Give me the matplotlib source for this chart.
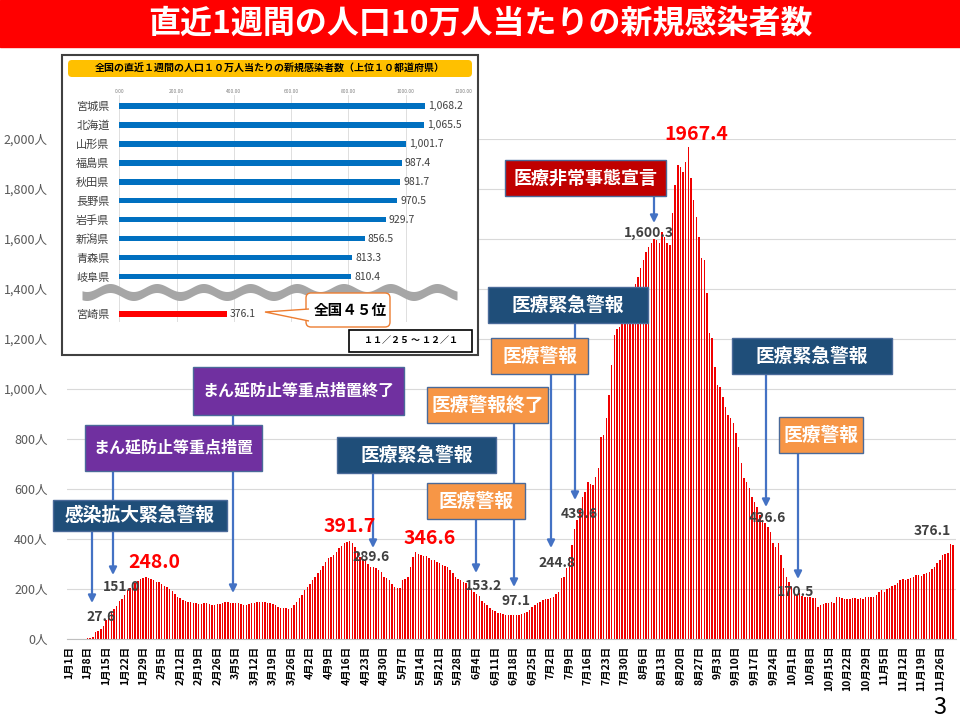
import numpy as np
import pandas as pd
import matplotlib
matplotlib.use('Agg')
import matplotlib.pyplot as plt
from matplotlib.patches import Rectangle, FancyBboxPatch, Polygon
from matplotlib.ticker import FuncFormatter

plt.rcParams['font.family'] = ['Noto Sans CJK JP', 'DejaVu Sans']

# daily values: new cases per 100k over the last 7 days (2022)
jan = [0, 0, 0, 0, 0, 0, 0, 3, 6, 10, 27.6, 32, 40, 53, 76, 90, 109, 120, 132, 151.0,
       160, 176, 196, 205, 209, 225, 232, 239, 245, 248.0, 245]
feb = [240, 236, 230, 227, 219, 214, 209, 200, 193, 180, 170, 165, 156, 152, 149, 147, 145, 143, 140, 141,
       143, 143, 140, 136, 137, 139, 139, 143]
mar = [147, 148, 146, 145, 144, 143, 140, 138, 136, 140, 143, 145, 148, 149, 150, 149, 146, 143, 141, 135,
       127, 125, 124, 123, 122, 123, 135, 149, 163, 176, 195]
apr = [209, 222, 236, 250, 263, 277, 292, 308, 323, 330, 336, 349, 363, 372, 383, 387, 391.7, 385, 369, 345,
       329, 320, 316, 300, 289.6, 287, 285, 276, 270, 249]
may = [243, 236, 220, 209, 205, 203, 236, 240, 249, 290, 329, 346.6, 340, 336, 334, 332, 325, 318, 316, 310,
       303, 298, 293, 289, 276, 263, 250, 240, 236, 228, 223]
jun = [210, 200, 190, 180, 172, 153.2, 145, 136, 125, 116, 112, 105, 103, 99, 97, 96, 96, 97.1, 96, 96,
       100, 105, 109, 118, 129, 138, 145, 149, 155, 159]
jul = [162, 165, 169, 180, 189, 244.8, 249, 283, 329, 376, 439.6, 476, 516, 569, 589, 629, 620, 616, 650, 683,
       809, 816, 883, 976, 1096, 1216, 1239, 1249, 1263, 1276, 1303]
aug = [1389, 1409, 1420, 1449, 1483, 1516, 1549, 1569, 1583, 1600.3, 1596, 1583, 1629, 1609, 1583, 1576, 1703,
       1816, 1896, 1889, 1869, 1909, 1967.4, 1843, 1756, 1689, 1609, 1523, 1516, 1383, 1223]
sep = [1203, 1089, 1016, 1009, 969, 929, 896, 883, 863, 823, 769, 703, 643, 629, 603, 569, 549, 529, 496, 476,
       463, 449, 426.6, 383, 369, 383, 336, 283, 249, 229]
oct_ = [209, 183, 176, 183, 170.5, 169, 167, 169, 163, 163, 129, 136, 139, 143, 145, 149, 145, 169, 167, 163,
        160, 160, 160, 163, 163, 161, 163, 161, 167, 169, 169]
nov = [169, 176, 189, 196, 189, 199, 203, 212, 216, 223, 236, 240, 236, 239, 243, 249, 256, 256, 252, 259,
       263, 269, 279, 289, 305, 316, 336, 340, 345, 380]
dec = [376.1]

# inset: top 10 prefectures
prefs = ['宮城県', '北海道', '山形県', '福島県', '秋田県', '長野県', '岩手県', '新潟県', '青森県', '岐阜県']
pref_vals = [1068.2, 1065.5, 1001.7, 987.4, 981.7, 970.5, 929.7, 856.5, 813.3, 810.4]
own_pref, own_val = '宮崎県', 376.1

values = np.array(jan + feb + mar + apr + may + jun + jul + aug + sep + oct_ + nov + dec)
dates = pd.date_range('2022-01-01', periods=len(values))
days = np.arange(len(values))

W, H = 960, 720
fig = plt.figure(figsize=(W / 100, H / 100), dpi=100)


def rect(x0, y0, x1, y1):
    return [x0 / W, 1 - y1 / H, (x1 - x0) / W, (y1 - y0) / H]


# main bar chart
ax = fig.add_axes(rect(67, 139, 956, 639))
ax.bar(days, values, width=0.55, color='#F00000', zorder=2)
ax.set_xlim(-0.76, 335.1)
ax.set_ylim(0, 2000)
ax.set_yticks(range(0, 2001, 200))
ax.yaxis.set_major_formatter(FuncFormatter(lambda v, p: f'{int(v):,}人'))
ax.tick_params(axis='y', length=0, pad=14, labelsize=9, labelcolor='#595959')
ax.set_xticks(days[::7])
ax.set_xticklabels([f'{d.month}月{d.day}日' for d in dates[::7]], rotation=90,
                   fontsize=7.5, fontweight='bold', color='black')
ax.tick_params(axis='x', length=0, pad=5)
ax.grid(axis='y', color='#D9D9D9', lw=0.8, zorder=0)
for s in ['top', 'right', 'left']:
    ax.spines[s].set_visible(False)
ax.spines['bottom'].set_color('#BFBFBF')

# overlay in pixel coordinates
ov = fig.add_axes([0, 0, 1, 1], zorder=3)
ov.set_xlim(0, W); ov.set_ylim(H, 0); ov.axis('off')

ov.add_patch(Rectangle((0, 0), W, 47, color='#FF0000', zorder=1))
ov.text(480, 24, '直近1週間の人口10万人当たりの新規感染者数', ha='center', va='center',
        color='white', fontsize=23, fontweight='bold')
ov.text(940, 707, '3', ha='center', va='center', fontsize=17, color='black')

navy, purple, orange, darkred = '#1F4E79', '#7030A0', '#F79646', '#C00000'
boxes = [
    ('感染拡大緊急警報', 53, 500, 227, 531, navy, 13.5),
    ('まん延防止等重点措置', 85, 425, 262, 471, purple, 11.5),
    ('まん延防止等重点措置終了', 193, 367, 404, 415, purple, 11.5),
    ('医療緊急警報', 337, 437, 496, 473, navy, 13.5),
    ('医療警報', 427, 483, 525, 519, orange, 13.5),
    ('医療警報終了', 427, 387, 548, 423, orange, 13.5),
    ('医療警報', 491, 338, 588, 374, orange, 13.5),
    ('医療緊急警報', 488, 287, 648, 323, navy, 13.5),
    ('医療非常事態宣言', 505, 160, 666, 196, darkred, 13),
    ('医療緊急警報', 732, 338, 892, 374, navy, 13.5),
    ('医療警報', 779, 417, 863, 453, orange, 13.5),
]
for text, x0, y0, x1, y1, fc, fs in boxes:
    ov.add_patch(Rectangle((x0, y0), x1 - x0, y1 - y0, fc=fc, ec='#4A6A99', lw=1, zorder=4))
    ov.text((x0 + x1) / 2, (y0 + y1) / 2, text, ha='center', va='center', color='white',
            fontsize=fs, fontweight='bold', zorder=5)

arrows = [(92, 531, 603), (113, 471, 575), (233, 415, 593), (373, 473, 548), (476, 519, 573),
          (514, 423, 587), (551, 374, 548), (575, 323, 500), (654, 196, 223), (766, 374, 507),
          (798, 453, 579)]
for x, y0, y1 in arrows:
    ov.annotate('', xy=(x, y1), xytext=(x, y0), zorder=2,
                arrowprops=dict(arrowstyle='-|>', color='#4472C4', lw=1.6, mutation_scale=11,
                                shrinkA=0, shrinkB=0))

gray_labels = [('27.6', 101, 617), ('151.0', 122, 587), ('289.6', 371, 557), ('153.2', 483, 586),
               ('97.1', 516, 601), ('244.8', 557, 563), ('439.6', 579, 514), ('1,600.3', 649, 233),
               ('426.6', 767, 518), ('170.5', 796, 592), ('376.1', 932, 531)]
for t, x, y in gray_labels:
    ov.text(x, y, t, ha='center', va='center', fontsize=10, fontweight='bold', color='#404040', zorder=6)
red_labels = [('248.0', 154, 562), ('391.7', 350, 527), ('346.6', 430, 538), ('1967.4', 696, 135)]
for t, x, y in red_labels:
    ov.text(x, y, t, ha='center', va='center', fontsize=14, fontweight='bold', color='#FF0000', zorder=6)

# inset frame
ov.add_patch(Rectangle((62, 55), 416, 300, fc='white', ec='#404040', lw=1.5, zorder=7))

ib = fig.add_axes(rect(119.3, 95, 463, 322), zorder=4)
ib.patch.set_alpha(0)
ib.barh(range(len(prefs)), pref_vals, height=0.3, color='#0070C0', zorder=2)
ib.barh([10.96], [own_val], height=0.33, color='#FF0000', zorder=2)
for i, v in enumerate(pref_vals):
    ib.text(v + 10, i, f'{v:,.1f}', va='center', fontsize=7.5, color='#404040')
ib.text(own_val + 10, 10.96, f'{own_val:,.1f}', va='center', fontsize=7.5, color='#404040')
ib.set_xlim(0, 1200)
ib.set_ylim(11.39, -0.563)
ib.set_yticks(list(range(len(prefs))) + [10.96])
ib.set_yticklabels(prefs + [own_pref], fontsize=8, color='#404040')
ib.xaxis.tick_top()
ib.set_xticks(range(0, 1201, 200))
ib.set_xticklabels([f'{t:.2f}' for t in range(0, 1201, 200)], fontsize=3.5, color='#7F7F7F')
ib.tick_params(length=0)
ib.tick_params(axis='x', pad=1)
ib.tick_params(axis='y', pad=7)
ib.grid(axis='x', color='#D9D9D9', lw=0.6, zorder=0)
for s in ib.spines.values():
    s.set_visible(False)

ov2 = fig.add_axes([0, 0, 1, 1], zorder=5)
ov2.set_xlim(0, W); ov2.set_ylim(H, 0); ov2.axis('off')
ov2.add_patch(FancyBboxPatch((68, 60), 404, 17, boxstyle='round,pad=0,rounding_size=4',
                             fc='#FFC000', ec='none'))
ov2.text(270, 68.5, '全国の直近１週間の人口１０万人当たりの新規感染者数（上位１０都道府県）',
         ha='center', va='center', fontsize=7.2, fontweight='bold', color='black')
xs = np.linspace(82, 457, 400)
yc = 292 + 4 * np.sin(2 * np.pi * (xs - 82) / 46.7 + 0.945)
ov2.fill_between(xs, yc - 4.5, yc + 4.5, color='#A6A6A6', lw=0)
ov2.add_patch(FancyBboxPatch((306, 293), 84, 34, boxstyle='round,pad=0,rounding_size=5',
                             fc='white', ec='#ED7D31', lw=1, zorder=3))
ov2.add_patch(Polygon([(309, 309), (265, 312), (309, 321)], closed=False, fc='white',
                      ec='#ED7D31', lw=1, zorder=4))
ov2.text(350, 310, '全国４５位', ha='center', va='center', fontsize=10.5, fontweight='bold', zorder=5)
ov2.add_patch(Rectangle((349, 330), 123, 22, fc='white', ec='black', lw=1.2, zorder=3))
ov2.text(410.5, 341, '１１／２５ ～ １２／１', ha='center', va='center', fontsize=6.5,
         fontweight='bold', zorder=4)

fig.savefig('out.png', dpi=100)
